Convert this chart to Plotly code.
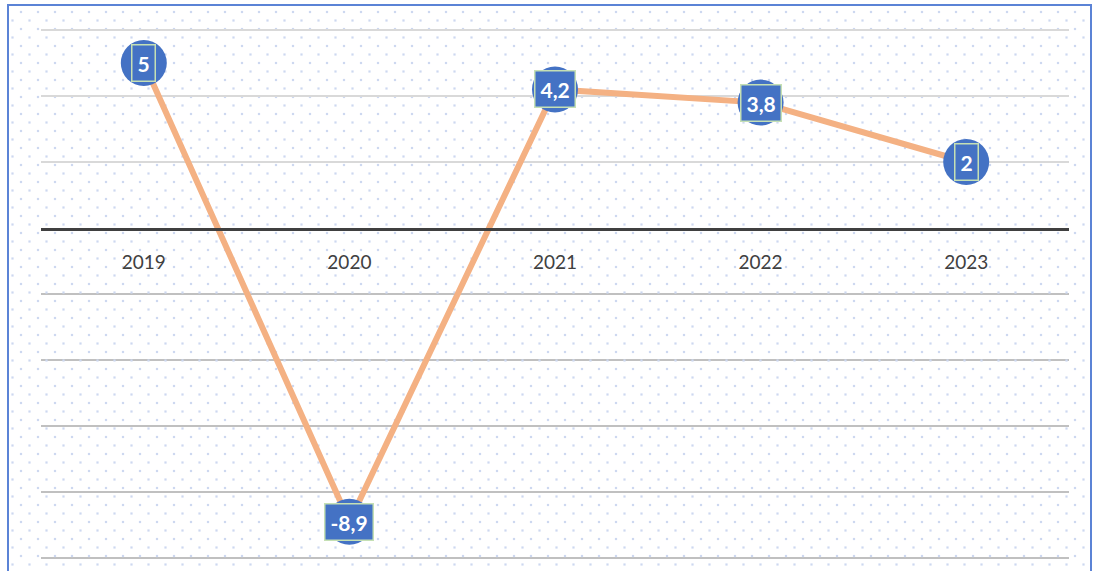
import plotly.graph_objects as go
import numpy as np

years = ["2019", "2020", "2021", "2022", "2023"]
growth = [5, -8.9, 4.2, 3.8, 2]
labels = ["5", "-8,9", "4,2", "3,8", "2"]
upper_grid = [2, 4, 6]
lower_grid = [-2, -4, -6, -8, -10]

W, H = 1093, 571
# plot area in pixels (y from 6 down to -10)
x0, x1, y0, y1 = 41, 1069, 30, 558
pad = 0.2
ppu = (y1 - y0) / 16.0
ydomain = [(H - y1 - pad * ppu) / H, (H - y0 + pad * ppu) / H]
yrange = [-10 - pad, 6 + pad]

fig = go.Figure()

# dotted background pattern (decoration), on a full-figure pixel axis
dx, dy = [], []
for r, yy in enumerate(np.arange(12, 571, 8.5)):
    start = 21 if r % 2 == 0 else 12.5
    for xx in np.arange(start, 1088, 17):
        dx.append(xx)
        dy.append(yy)
fig.add_trace(go.Scatter(x=dx, y=dy, mode='markers',
                         marker=dict(size=2.2, color='#cdd8f0', symbol='square'),
                         hoverinfo='skip', showlegend=False))

fig.add_trace(go.Scatter(
    x=years, y=growth, mode='lines+markers', xaxis='x2', yaxis='y2',
    line=dict(color='#F4B183', width=6),
    marker=dict(size=46, color='#4472C4', line=dict(width=0)),
    cliponaxis=False, showlegend=False, hoverinfo='skip'))

# darker gridlines below zero
for g in lower_grid:
    fig.add_shape(type='line', xref='x2 domain', yref='y2', x0=0, x1=1,
                  y0=g, y1=g, line=dict(color='#ababab', width=1.6),
                  layer='below')

# value labels (category index used, numeric-looking names confuse annotations)
for i, (v, t) in enumerate(zip(growth, labels)):
    fig.add_annotation(x=i, y=v, xref='x2', yref='y2',
                       text="<b>" + t + "</b>", showarrow=False,
                       font=dict(family='Lato', size=21, color='white'),
                       bgcolor='#4472C4', bordercolor='#c5e0b4', borderwidth=1.5,
                       borderpad=5)

fig.add_shape(type='rect', xref='x', yref='y', x0=8, x1=1091, y0=5, y1=580,
              line=dict(color='#5b83d6', width=2), layer='above')

fig.update_layout(
    width=W, height=H,
    margin=dict(l=0, r=0, t=0, b=0),
    paper_bgcolor='white', plot_bgcolor='rgba(0,0,0,0)',
    showlegend=False,
    xaxis=dict(domain=[0, 1], range=[0, W], visible=False, anchor='y'),
    yaxis=dict(domain=[0, 1], range=[H, 0], visible=False, anchor='x'),
    xaxis2=dict(domain=[x0 / W, x1 / W], range=[-0.5, 4.5], type='category',
                anchor='free', position=(H - 229) / H,
                showline=True, linecolor='#404040', linewidth=3,
                showgrid=False, zeroline=False, ticks='',
                ticklabelstandoff=15,
                tickfont=dict(family='Lato', size=19, color='#404040')),
    yaxis2=dict(domain=ydomain, range=yrange, anchor='x2',
                tickvals=upper_grid, showticklabels=False, showgrid=True,
                gridcolor='#d9d9d9', gridwidth=1.5, zeroline=False),
)

fig.write_html("out.html", config={'displayModeBar': False},
               post_script="document.body.style.margin='0';")
